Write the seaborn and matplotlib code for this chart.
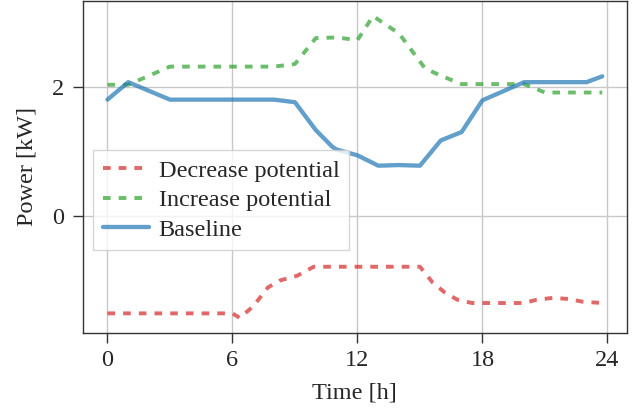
import matplotlib
matplotlib.use("Agg")
import matplotlib.pyplot as plt
import seaborn as sns

# Flexibility envelope around the baseline household load
hours_dec = [0, 6, 6.35, 7, 7.7, 8.3, 9.1, 9.9, 15, 15.6, 16.2, 16.8, 17.5, 20, 20.6, 21.4, 22.2, 22.8, 23.75]
decrease = [-1.50, -1.50, -1.57, -1.39, -1.10, -0.99, -0.92, -0.78, -0.78, -1.02, -1.18, -1.29, -1.34,
            -1.34, -1.29, -1.26, -1.28, -1.32, -1.34]

hours_inc = [0, 1, 3, 8, 9, 10, 11, 12, 12.75, 14, 15.25, 16, 17, 20, 21, 23.75]
increase = [2.03, 2.03, 2.31, 2.31, 2.35, 2.75, 2.76, 2.72, 3.09, 2.82, 2.28, 2.17, 2.04, 2.04, 1.91, 1.91]

hours_base = [0, 1, 3, 8, 9, 10, 10.8, 11, 12, 13, 14, 15, 16, 17, 18, 20, 23, 23.75]
baseline = [1.80, 2.07, 1.80, 1.80, 1.76, 1.33, 1.07, 1.03, 0.94, 0.78, 0.79, 0.78, 1.17, 1.30, 1.79,
            2.07, 2.07, 2.16]

x_ticks = [0, 6, 12, 18, 24]
y_ticks = [0, 2]

sns.set_style("whitegrid")
plt.rcParams["font.family"] = ["Liberation Serif", "DejaVu Serif"]
plt.rcParams["lines.scale_dashes"] = False
plt.rcParams["font.size"] = 17.5

fig = plt.figure(figsize=(6.44, 4.13), dpi=100)
ax = fig.add_axes([0.1284, 0.1937, 0.8452, 0.8039])

dash = (5.5, 5.8)
sns.lineplot(x=hours_dec, y=decrease, ax=ax, color="tab:red", alpha=0.7, lw=2.8,
             label="Decrease potential", sort=False)
ax.lines[-1].set_dashes(dash)
sns.lineplot(x=hours_inc, y=increase, ax=ax, color="tab:green", alpha=0.7, lw=2.8,
             label="Increase potential", sort=False)
ax.lines[-1].set_dashes(dash)
sns.lineplot(x=hours_base, y=baseline, ax=ax, color="tab:blue", alpha=0.7, lw=3.1,
             label="Baseline", sort=False)

ax.set_xticks(x_ticks)
ax.set_yticks(y_ticks)
ax.set_xlabel("Time [h]", fontsize=17.5)
ax.set_ylabel("Power [kW]", fontsize=17.5)
ax.xaxis.set_label_coords(0.5, -0.15)
ax.yaxis.set_label_coords(-0.083, 0.5)

ax.grid(True, color="#c8c8c8", lw=1.0)
for sp in ax.spines.values():
    sp.set_color("#333333")
    sp.set_linewidth(1.0)
ax.tick_params(axis="both", which="major", direction="out", length=7.5, width=1.0,
               color="#333333", labelsize=17.5, bottom=True, left=True)
ax.tick_params(axis="x", pad=5)
ax.tick_params(axis="y", pad=6)

leg = ax.legend(loc="center left", bbox_to_anchor=(0.019, 0.40), borderaxespad=0,
                fontsize=17.5, fancybox=False, framealpha=0.8, edgecolor="#cccccc",
                handlelength=1.9, handletextpad=0.4, labelspacing=0.3, borderpad=0.4)
leg.get_frame().set_linewidth(1.0)

fig.savefig("out.png", dpi=100)
